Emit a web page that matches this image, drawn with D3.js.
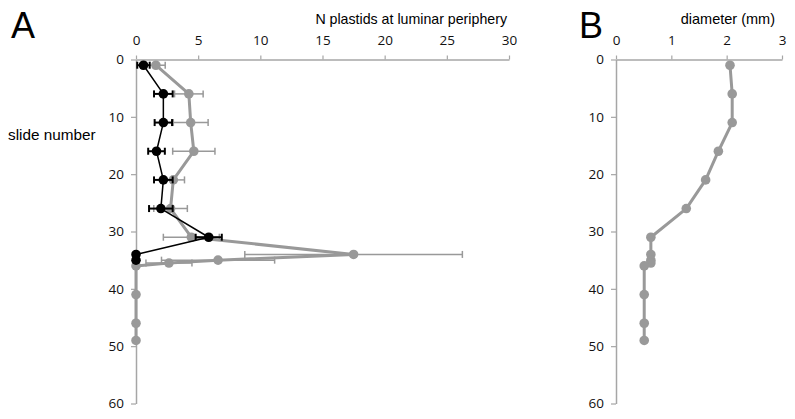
<!DOCTYPE html>
<html><head><meta charset="utf-8">
<script src="https://cdn.jsdelivr.net/npm/d3@7"></script>
<style>body{margin:0;background:#fff}svg{display:block}</style>
</head><body><svg id="c" width="795" height="419"></svg>
<script>
// Panel A data
const graySlides = [1, 6, 11, 16, 21, 26, 31, 34, 35, 35.5, 36, 41, 46, 49];
const grayValues = [1.6, 4.25, 4.4, 4.65, 3.0, 2.78, 4.45, 17.5, 6.6, 2.65, 0, 0, 0, 0];
const grayErrors = [0.75, 1.15, 1.4, 1.7, 0.9, 1.35, 2.25, 8.75, 4.55, 1.85, 0, 0, 0, 0];
const blackSlides = [1, 6, 11, 16, 21, 26, 31, 34, 35];
const blackValues = [0.6, 2.2, 2.2, 1.65, 2.2, 2.0, 5.85, 0, 0];
const blackErrors = [0.5, 0.75, 0.7, 0.67, 0.75, 0.95, 1.05, 0, 0];
// Panel B data
const diamSlides = [1, 6, 11, 16, 21, 26, 31, 34, 35, 35.5, 36, 41, 46, 49];
const diamValues = [2.06, 2.1, 2.1, 1.85, 1.62, 1.27, 0.63, 0.63, 0.63, 0.63, 0.51, 0.51, 0.51, 0.51];
// ticks
const yTicks = [0, 10, 20, 30, 40, 50, 60];
const xTicksA = [0, 5, 10, 15, 20, 25, 30];
const xTicksB = [0, 1, 2, 3];

const svg = d3.select("#c");
const AX = "#a6a6a6", GR = "#999999";
const tickFont = "'Open Sans', 'Liberation Sans', sans-serif";
const y = d3.scaleLinear().domain([0, 60]).range([59.5, 403.5]);
const xA = d3.scaleLinear().domain([0, 30]).range([136, 509]);
const xB = d3.scaleLinear().domain([0, 3]).range([616, 782]);

function axes(x, ticks) {
  const gx = svg.append("g").attr("transform", `translate(0,${y(0)})`)
    .call(d3.axisTop(x).tickValues(ticks).tickSize(4).tickSizeOuter(0).tickFormat(d3.format("d")));
  const gy = svg.append("g").attr("transform", `translate(${x(0)},0)`)
    .call(d3.axisLeft(y).tickValues(yTicks).tickSize(5).tickSizeOuter(0).tickPadding(7));
  [gx, gy].forEach(g => {
    g.select(".domain").attr("stroke", AX).attr("stroke-width", 1.5);
    g.selectAll(".tick line").attr("stroke", AX).attr("stroke-width", 1.2);
    g.selectAll(".tick text").attr("fill", "#111").attr("font-size", 13.5).attr("font-family", tickFont);
  });
  gx.selectAll(".tick text").attr("dy", "-0.55em");
}
axes(xA, xTicksA);
axes(xB, xTicksB);

function series(x, slides, vals, errs, color, lw, ew, cap, r) {
  const pts = slides.map((s, i) => ({ s, v: vals[i], e: errs ? errs[i] : 0 }));
  const g = svg.append("g");
  if (errs) {
    pts.filter(p => p.e > 0).forEach(p => {
      const yy = y(p.s);
      g.append("line").attr("x1", x(p.v - p.e)).attr("x2", x(p.v + p.e)).attr("y1", yy).attr("y2", yy)
        .attr("stroke", color).attr("stroke-width", ew);
      [p.v - p.e, p.v + p.e].forEach(v => g.append("line").attr("x1", x(v)).attr("x2", x(v))
        .attr("y1", yy - cap).attr("y2", yy + cap).attr("stroke", color).attr("stroke-width", ew));
    });
  }
  g.append("path").datum(pts).attr("fill", "none").attr("stroke", color).attr("stroke-width", lw)
    .attr("stroke-linejoin", "round")
    .attr("d", d3.line().x(p => x(p.v)).y(p => y(p.s)));
  g.selectAll("circle").data(pts).join("circle").attr("cx", p => x(p.v)).attr("cy", p => y(p.s))
    .attr("r", r).attr("fill", color);
}
series(xA, graySlides, grayValues, grayErrors, GR, 3, 1.5, 3.5, 4.8);
series(xA, blackSlides, blackValues, blackErrors, "#000", 1.5, 2, 3.5, 4.8);
series(xB, diamSlides, diamValues, null, GR, 3, 1.5, 3.5, 4.8);

const lab = "'Liberation Sans', Arial, sans-serif";
svg.append("text").attr("x", 11).attr("y", 38).text("A").attr("font-size", 36).attr("font-family", lab);
svg.append("text").attr("x", 579).attr("y", 38).text("B").attr("font-size", 36).attr("font-family", lab);
svg.append("text").attr("x", 507).attr("y", 24).attr("text-anchor", "end")
  .text("N plastids at luminar periphery").attr("font-size", 14.2).attr("font-family", lab);
svg.append("text").attr("x", 775).attr("y", 24).attr("text-anchor", "end")
  .text("diameter (mm)").attr("font-size", 14.5).attr("font-family", lab);
svg.append("text").attr("x", 8).attr("y", 140).text("slide number").attr("font-size", 15.3).attr("font-family", lab);
</script></body></html>
